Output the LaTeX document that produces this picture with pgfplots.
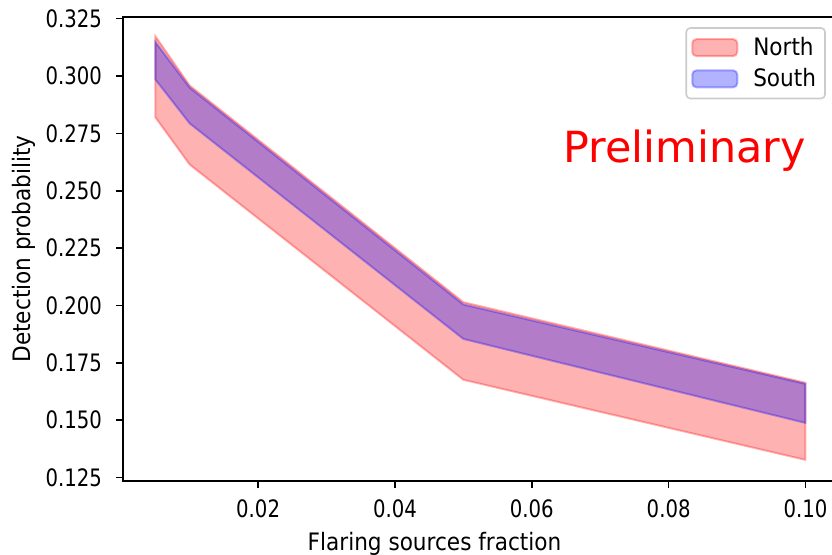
\documentclass[border=0pt]{standalone}
\usepackage{fontspec}
\setmainfont{DejaVu Sans}
\newfontfamily\labelfont{DejaVu Sans}[FakeStretch=0.9]
\newfontfamily\tickfont{DejaVu Sans}[FakeStretch=0.82]
\usepackage{pgfplots}
\pgfplotsset{compat=1.18}

\begin{document}
\begin{tikzpicture}
\path[use as bounding box] (0,0) rectangle (416pt,277pt);
\begin{axis}[
  at={(61.5pt,36.5pt)}, anchor=south west,
  scale only axis, width=357.5pt, height=232pt,
  xmin=0.00025, xmax=0.10475, ymin=0.1235, ymax=0.3257,
  xtick={0.02,0.04,0.06,0.08,0.10},
  ytick={0.125,0.150,0.175,0.200,0.225,0.250,0.275,0.300,0.325},
  scaled x ticks=false, scaled y ticks=false,
  /pgf/number format/assume math mode=true,
  tick align=outside, xtick pos=bottom, ytick pos=left,
  major tick length=3.5pt,
  every tick/.style={black, line width=0.8pt},
  axis line style={line width=0.8pt},
  tick label style={font=\tickfont\fontsize{12}{14}\selectfont},
  xticklabel style={yshift=-2.5pt, /pgf/number format/.cd, fixed, fixed zerofill, precision=2},
  yticklabel style={xshift=-3.5pt, /pgf/number format/.cd, fixed, fixed zerofill, precision=3},
  label style={font=\labelfont\fontsize{12}{14}\selectfont},
  xlabel={Flaring sources fraction},
  ylabel={Detection probability},
  xlabel style={at={(ticklabel cs:0.4357)}},
  ylabel style={at={(ticklabel cs:0.5,-2pt)}},
  legend cell align=left,
  legend style={at={(rel axis cs:0.983,0.978)}, anchor=north east,
    font=\labelfont\fontsize{12}{14}\selectfont, draw=black!20, line width=0.8pt,
    rounded corners=2pt, fill=white, inner xsep=2.5pt, inner ysep=2.5pt,
    row sep=1pt},
  legend image code/.code={\draw[#1, line width=1pt] (0pt,-4.2pt) rectangle (22.5pt,4.2pt);
    \path (28pt,0pt);},
]
% North band: upper edge forward, lower edge back
\addplot[fill=red, draw=red, fill opacity=0.3, draw opacity=0.3, line width=1pt]
  coordinates {(0.005,0.3172) (0.01,0.2958) (0.05,0.2014) (0.1,0.1663)
               (0.1,0.1327) (0.05,0.1676) (0.01,0.2614) (0.005,0.2819)} -- cycle;
\addlegendentry{North}
% South band
\addplot[fill=blue, draw=blue, fill opacity=0.3, draw opacity=0.3, line width=1pt]
  coordinates {(0.005,0.3147) (0.01,0.2949) (0.05,0.2004) (0.1,0.1658)
               (0.1,0.1488) (0.05,0.1854) (0.01,0.2793) (0.005,0.2984)} -- cycle;
\addlegendentry{South}
\node[anchor=base west, text=red, font=\fontsize{21.45}{25}\selectfont]
  at (rel axis cs:0.606,0.6875) {Preliminary};
\end{axis}
\end{tikzpicture}
\end{document}
